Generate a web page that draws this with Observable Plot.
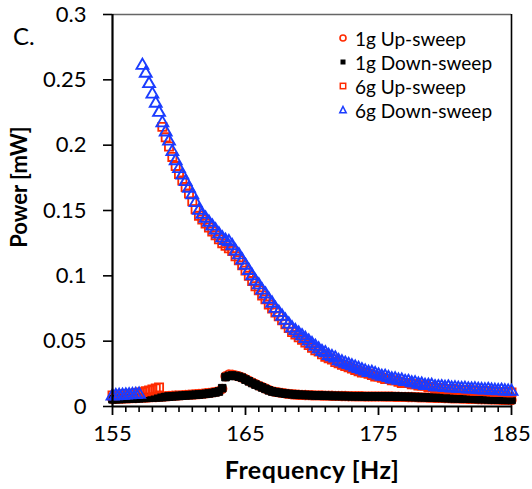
<!DOCTYPE html>
<html><head><meta charset="utf-8">
<script src="https://cdn.jsdelivr.net/npm/d3@7"></script>
<script src="https://cdn.jsdelivr.net/npm/@observablehq/plot@0.6"></script>
<style>
body{margin:0;background:#fff;}
#wrap{position:relative;width:532px;height:489px;font-family:Lato,sans-serif;color:#000;}
#wrap svg{display:block;}
#clabel{position:absolute;left:13px;top:22px;font-size:24px;line-height:28px;}
#ylabel{position:absolute;left:18px;top:187px;width:0;height:0;}
#ylabel span{position:absolute;left:0;top:0;transform:translate(-50%,-50%) rotate(-90deg);white-space:nowrap;font-weight:bold;font-size:22px;}
#legend{position:absolute;left:335px;top:26px;font-size:19px;}
#legend .row{height:24px;display:flex;align-items:center;}
#legend svg{width:16px;height:14px;margin-right:4px;}
g[aria-label="x-axis label"] text{font-weight:bold;font-size:25px;letter-spacing:0.5px;}
</style></head>
<body>
<div id="wrap"><div id="clabel">C.</div><div id="ylabel"><span>Power [mW]</span></div><div id="legend"></div></div>
<script>
// Frequency sweep grid (Hz)
const freq = [
155,155.25,155.5,155.75,156,156.25,156.5,156.75,157,157.25,
157.5,157.75,158,158.25,158.5,158.75,159,159.25,159.5,159.75,
160,160.25,160.5,160.75,161,161.25,161.5,161.75,162,162.25,
162.5,162.75,163,163.25,163.5,163.75,164,164.25,164.5,164.75,
165,165.25,165.5,165.75,166,166.25,166.5,166.75,167,167.25,
167.5,167.75,168,168.25,168.5,168.75,169,169.25,169.5,169.75,
170,170.25,170.5,170.75,171,171.25,171.5,171.75,172,172.25,
172.5,172.75,173,173.25,173.5,173.75,174,174.25,174.5,174.75,
175,175.25,175.5,175.75,176,176.25,176.5,176.75,177,177.25,
177.5,177.75,178,178.25,178.5,178.75,179,179.25,179.5,179.75,
180,180.25,180.5,180.75,181,181.25,181.5,181.75,182,182.25,
182.5,182.75,183,183.25,183.5,183.75,184,184.25,184.5,184.75,
185];

// 1g Up-sweep power (mW)
const pow1gUp = [
0.0058,0.0059,0.0060,0.0061,0.0062,0.0063,0.0064,0.0065,0.0066,0.0068,
0.0069,0.0070,0.0072,0.0073,0.0074,0.0076,0.0078,0.0080,0.0082,0.0084,
0.0085,0.0087,0.0089,0.0091,0.0092,0.0094,0.0096,0.0098,0.0101,0.0104,
0.0108,0.0112,0.0118,0.0135,0.0232,0.0245,0.0244,0.0238,0.0231,0.0222,
0.0210,0.0197,0.0184,0.0172,0.0160,0.0149,0.0138,0.0127,0.0118,0.0112,
0.0108,0.0104,0.0100,0.0097,0.0094,0.0092,0.0090,0.0089,0.0088,0.0087,
0.0086,0.0085,0.0085,0.0084,0.0083,0.0083,0.0082,0.0081,0.0081,0.0080,
0.0080,0.0079,0.0079,0.0078,0.0078,0.0078,0.0077,0.0077,0.0077,0.0077,
0.0077,0.0077,0.0076,0.0076,0.0076,0.0075,0.0075,0.0074,0.0074,0.0073,
0.0073,0.0072,0.0071,0.0070,0.0070,0.0069,0.0068,0.0067,0.0066,0.0066,
0.0065,0.0064,0.0063,0.0062,0.0062,0.0061,0.0060,0.0059,0.0059,0.0058,
0.0057,0.0056,0.0056,0.0055,0.0054,0.0054,0.0053,0.0052,0.0051,0.0051,
0.0050];

// 1g Down-sweep power (mW)
const pow1gDown = [
0.0055,0.0056,0.0057,0.0058,0.0059,0.0060,0.0061,0.0062,0.0063,0.0065,
0.0066,0.0067,0.0069,0.0070,0.0071,0.0072,0.0074,0.0076,0.0078,0.0080,
0.0081,0.0083,0.0085,0.0087,0.0088,0.0090,0.0092,0.0094,0.0097,0.0100,
0.0104,0.0108,0.0115,0.0140,0.0225,0.0234,0.0237,0.0234,0.0228,0.0220,
0.0206,0.0193,0.0180,0.0168,0.0157,0.0146,0.0135,0.0124,0.0115,0.0110,
0.0106,0.0102,0.0099,0.0096,0.0094,0.0092,0.0090,0.0089,0.0088,0.0087,
0.0086,0.0085,0.0084,0.0083,0.0083,0.0082,0.0081,0.0081,0.0080,0.0080,
0.0079,0.0079,0.0078,0.0078,0.0078,0.0077,0.0077,0.0077,0.0077,0.0077,
0.0077,0.0077,0.0077,0.0076,0.0076,0.0076,0.0075,0.0075,0.0074,0.0074,
0.0073,0.0072,0.0071,0.0071,0.0070,0.0069,0.0068,0.0067,0.0067,0.0066,
0.0065,0.0064,0.0063,0.0063,0.0062,0.0061,0.0060,0.0060,0.0059,0.0058,
0.0057,0.0057,0.0056,0.0055,0.0054,0.0054,0.0053,0.0052,0.0051,0.0051,
0.0050];

// 6g Up-sweep power (mW)
const pow6gUp = [
0.0085,0.0087,0.0090,0.0092,0.0094,0.0096,0.0098,0.0101,0.0105,0.0110,
0.0116,0.0123,0.0130,0.0138,0.0146,0.214,0.206,0.199,0.191,0.184,
0.178,0.173,0.168,0.163,0.157,0.151,0.146,0.143,0.140,0.137,
0.134,0.131,0.128,0.125,0.123,0.121,0.119,0.115,0.112,0.108,
0.104,0.100,0.096,0.092,0.089,0.085,0.082,0.078,0.075,0.072,
0.069,0.066,0.063,0.060,0.057,0.055,0.053,0.051,0.049,0.047,
0.045,0.043,0.042,0.040,0.038,0.037,0.036,0.034,0.033,0.032,
0.031,0.030,0.029,0.028,0.027,0.026,0.026,0.025,0.024,0.023,
0.023,0.022,0.021,0.021,0.020,0.020,0.019,0.018,0.018,0.018,
0.017,0.017,0.016,0.016,0.016,0.015,0.015,0.014,0.014,0.014,
0.0135,0.0132,0.0134,0.0130,0.0128,0.0127,0.0126,0.0124,0.0123,0.0121,
0.0120,0.0118,0.0119,0.0116,0.0115,0.0113,0.0112,0.0111,0.0110,0.0109,
0.0108];

// 6g Down-sweep power (mW)
const pow6gDown = [
0.0080,0.0082,0.0084,0.0085,0.0087,0.0088,0.0090,0.0091,0.0093,0.261,
0.255,0.247,0.239,0.232,0.225,0.217,0.210,0.203,0.195,0.188,
0.182,0.177,0.172,0.167,0.162,0.156,0.150,0.147,0.144,0.141,
0.138,0.135,0.132,0.129,0.127,0.126,0.123,0.119,0.116,0.112,
0.108,0.104,0.100,0.096,0.093,0.089,0.086,0.082,0.079,0.075,
0.072,0.069,0.066,0.063,0.060,0.058,0.056,0.054,0.052,0.050,
0.048,0.046,0.044,0.042,0.041,0.039,0.038,0.037,0.035,0.034,
0.033,0.032,0.031,0.030,0.029,0.028,0.027,0.026,0.026,0.025,
0.024,0.023,0.023,0.022,0.021,0.021,0.020,0.020,0.019,0.019,
0.018,0.018,0.017,0.017,0.016,0.016,0.016,0.015,0.015,0.015,
0.0145,0.0148,0.0140,0.0142,0.0138,0.0136,0.0138,0.0133,0.0132,0.0134,
0.0130,0.0128,0.0126,0.0129,0.0124,0.0122,0.0120,0.0123,0.0118,0.0117,
0.0115];

const seriesNames = ["1g Up-sweep", "1g Down-sweep", "6g Up-sweep", "6g Down-sweep"];
const seriesColors = ["#ff2a00", "#000000", "#ff2a00", "#1a3cff"];

const xMajorTicks = [155, 165, 175, 185];
const xMinorTicks = [156,157,158,159,160,161,162,163,164,166,167,168,169,170,171,172,173,174,176,177,178,179,180,181,182,183,184];
const yTicks = [0, 0.05, 0.1, 0.15, 0.2, 0.25, 0.3];
const yTickLabels = ["0", "0.05", "0.1", "0.15", "0.2", "0.25", "0.3"];

const series = [pow1gUp, pow1gDown, pow6gUp, pow6gDown].map(arr => freq.map((f, i) => ({f, p: arr[i]})));
const yLab = new Map(yTicks.map((v, i) => [v, yTickLabels[i]]));

const chart = Plot.plot({
  width: 532, height: 489,
  marginLeft: 112, marginRight: 21, marginTop: 14, marginBottom: 83,
  x: {domain: [155, 185]},
  y: {domain: [0, 0.3]},
  style: {fontFamily: "Lato, sans-serif", fontSize: "22px", color: "#000", background: "#fff", overflow: "visible"},
  marks: [
    Plot.axisX(xMinorTicks, {tickSize: 6, strokeWidth: 1.6, tickFormat: () => "", label: null}),
    Plot.axisX(xMajorTicks, {tickSize: 9, strokeWidth: 1.8, tickPadding: 10, tickFormat: d => String(d),
      label: "Frequency [Hz]", labelAnchor: "center", labelArrow: "none", labelOffset: 72}),
    Plot.axisY(yTicks, {tickSize: 9, strokeWidth: 1.6, tickPadding: 17, tickFormat: d => yLab.get(d), label: null}),
    Plot.ruleY([0.3], {stroke: "#666", strokeWidth: 1.4}),
    Plot.ruleX([185], {stroke: "#000", strokeWidth: 1.6}),
    Plot.dot(series[0], {x: "f", y: "p", symbol: "circle", r: 4.3, fill: "none", stroke: seriesColors[0], strokeWidth: 1.8}),
    Plot.dot(series[1], {x: "f", y: "p", symbol: "square", r: 4.3, fill: seriesColors[1], stroke: seriesColors[1], strokeWidth: 1}),
    Plot.dot(series[2], {x: "f", y: "p", symbol: "square", r: 4.6, fill: "none", stroke: seriesColors[2], strokeWidth: 1.8}),
    Plot.dot(series[3], {x: "f", y: "p", symbol: "triangle", r: 4.4, fill: "none", stroke: seriesColors[3], strokeWidth: 1.9}),
    Plot.ruleX([155], {stroke: "#000", strokeWidth: 2.2}),
    Plot.ruleY([0], {stroke: "#000", strokeWidth: 2.2})
  ]
});
document.getElementById("wrap").prepend(chart);

// legend
const shapes = [
  c => `<circle cx="8" cy="7" r="3" fill="none" stroke="${c}" stroke-width="1.6"/>`,
  c => `<rect x="5.5" y="4.5" width="5" height="5" fill="${c}"/>`,
  c => `<rect x="5.3" y="4.3" width="5.4" height="5.4" fill="none" stroke="${c}" stroke-width="1.5"/>`,
  c => `<path d="M8,3.5 L11.2,9.8 L4.8,9.8 Z" fill="none" stroke="${c}" stroke-width="1.5"/>`
];
const leg = document.getElementById("legend");
seriesNames.forEach((name, i) => {
  const row = document.createElement("div");
  row.className = "row";
  row.innerHTML = `<svg viewBox="0 0 16 14">${shapes[i](seriesColors[i])}</svg><span>${name}</span>`;
  leg.appendChild(row);
});
</script>
</body></html>
